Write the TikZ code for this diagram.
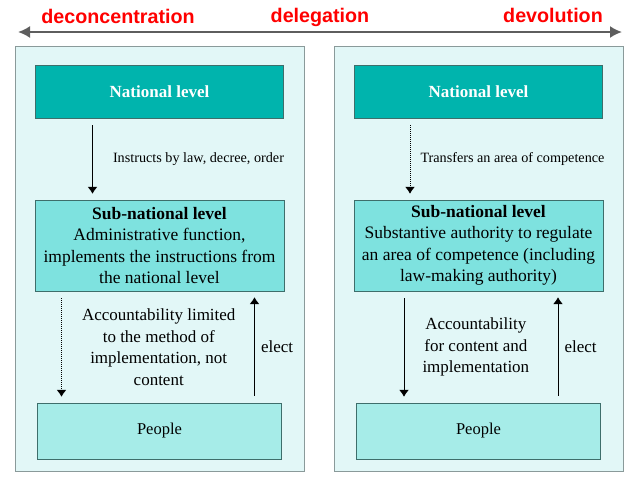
\documentclass[tikz,border=0pt]{standalone}
\usepackage{fontspec}
\setmainfont{Liberation Serif}
\newfontfamily\spectrumfont{Liberation Sans}
\usetikzlibrary{positioning}
\usetikzlibrary{shapes,arrows,arrows.meta}
\definecolor{panelbg}{HTML}{E2F7F7}
\definecolor{panelline}{HTML}{8A9A9A}
\definecolor{natfill}{HTML}{00B4AD}
\definecolor{boxline}{HTML}{3E6E6B}
\definecolor{subfill}{HTML}{7EE2DF}
\definecolor{peofill}{HTML}{A6ECE8}
\definecolor{arrowgray}{HTML}{5E5E5E}
\tikzstyle{panel} = [rectangle, draw=panelline, fill=panelbg, line width=1pt,
    minimum width=289pt, minimum height=425pt, inner sep=0pt]
\tikzstyle{national} = [rectangle, draw=boxline, fill=natfill, text=white,
    font=\bfseries\fontsize{17}{20}\selectfont, minimum width=248pt, minimum height=53pt]
\tikzstyle{subnat} = [rectangle, draw=boxline, fill=subfill, align=center,
    font=\fontsize{17.5}{21.5}\selectfont, minimum width=249pt, minimum height=91pt, inner sep=0pt]
\tikzstyle{people} = [rectangle, draw=boxline, fill=peofill,
    font=\fontsize{16.5}{20}\selectfont, minimum width=244pt, minimum height=56pt]
\tikzstyle{note} = [font=\fontsize{17}{21.5}\selectfont, align=center, inner sep=0pt]
\tikzstyle{small} = [font=\fontsize{14.2}{17}\selectfont, inner sep=0pt]
\tikzstyle{line} = [draw, -{Latex[width=10pt,length=7pt]}, line width=1pt, shorten <=7pt, shorten >=6pt]
\tikzstyle{spectrum} = [text=red, font=\spectrumfont\bfseries\fontsize{19.7}{22}\selectfont]

\begin{document}
\begin{tikzpicture}[node distance = 319pt, auto]
    \useasboundingbox (0,0) rectangle (639pt,-482pt);
    % Place nodes
    \node [panel] (panL) at (159.5pt,-258.5pt) {};
    \node [panel, right of=panL] (panR) {};
    \node [national, above of=panL, node distance=167pt] (natL) {National level};
    \node [subnat, below of=natL, node distance=154pt] (subL)
        {\textbf{Sub-national level}\\Administrative function,\\implements the instructions from\\the national level};
    \node [people, below of=subL, node distance=185.5pt] (peoL) {People};
    \node [national, above of=panR, node distance=167pt] (natR) {National level};
    \node [subnat, below of=natR, node distance=154pt] (subR)
        {\textbf{Sub-national level}\\Substantive authority to regulate\\an area of competence (including\\law-making authority)};
    \node [people, below of=subR, node distance=185.5pt] (peoR) {People};

    % Spectrum
    \coordinate (farL) at (18pt,-32pt);
    \coordinate (farR) at (622pt,-32pt);
    \path [draw, arrowgray, line width=2pt, {Latex[width=12pt,length=12pt]}-{Latex[width=12pt,length=12pt]}] (farL) -- (farR);
    \node [spectrum] (deconc) at (118pt,-16pt) {deconcentration};
    \node [spectrum] (deleg) at (320pt,-17pt) {delegation};
    \node [spectrum] (devol) at (553pt,-15pt) {devolution};

    % Draw edges
    \path [line] ([xshift=-67pt]natL.south) -- node [small, right=20pt] {Instructs by law, decree, order} ([xshift=-67pt]subL.north);
    \path [line, densely dotted] ([xshift=-98pt]subL.south) -- node [note, right=20pt] {Accountability limited\\to the method of\\implementation, not\\content} ([xshift=-98pt]peoL.north);
    \path [line] ([xshift=95pt]peoL.north) -- node [note, right=6pt] {elect} ([xshift=95pt]subL.south);
    \path [line, densely dotted] ([xshift=-68.5pt]natR.south) -- node [small, right=10pt] {Transfers an area of competence} ([xshift=-68.5pt]subR.north);
    \path [line] ([xshift=-74.5pt]subR.south) -- node [note, right=18pt] {Accountability\\for content and\\implementation} ([xshift=-74.5pt]peoR.north);
    \path [line] ([xshift=79.5pt]peoR.north) -- node [note, right=6pt] {elect} ([xshift=79.5pt]subR.south);
\end{tikzpicture}
\end{document}
